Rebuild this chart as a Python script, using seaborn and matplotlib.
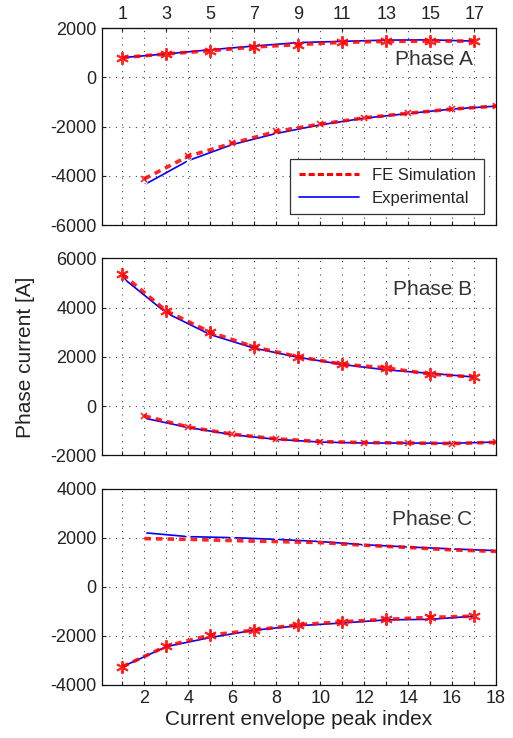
import numpy as np
import pandas as pd
import matplotlib
matplotlib.use("Agg")
import matplotlib.pyplot as plt
import seaborn as sns
from matplotlib.lines import Line2D

# peak indices
odd_idx = [1, 3, 5, 7, 9, 11, 13, 15, 17]
even_idx = [2, 4, 6, 8, 10, 12, 14, 16, 18]

# Phase A
a_fe_up = [800, 950, 1080, 1230, 1330, 1420, 1460, 1470, 1470]
a_ex_up = [800, 950, 1120, 1270, 1410, 1460, 1510, 1520, 1470]
a_fe_lo = [-4120, -3200, -2680, -2200, -1900, -1650, -1460, -1290, -1170]
a_ex_lo = [-4360, -3380, -2730, -2280, -1930, -1660, -1470, -1290, -1170]

# Phase B
b_fe_up = [5350, 3860, 3000, 2400, 2000, 1700, 1550, 1300, 1180]
b_ex_up = [5220, 3780, 2900, 2350, 1980, 1690, 1470, 1330, 1180]
b_fe_lo = [-400, -850, -1140, -1330, -1440, -1480, -1500, -1520, -1470]
b_ex_lo = [-490, -870, -1160, -1350, -1460, -1500, -1500, -1510, -1460]

# Phase C
c_fe_up = [1960, 1930, 1880, 1840, 1800, 1690, 1600, 1500, 1440]
c_ex_up = [2200, 2040, 2000, 1930, 1840, 1710, 1620, 1540, 1470]
c_fe_lo = [-3260, -2420, -1970, -1770, -1550, -1430, -1330, -1250, -1200]
c_ex_lo = [-3260, -2440, -2070, -1770, -1590, -1480, -1350, -1330, -1200]

phases = ["Phase A", "Phase B", "Phase C"]
ylims = [(-6000, 2000), (-2000, 6000), (-4000, 4000)]

sns.set_style("ticks")
plt.rcParams['font.family'] = ['Liberation Sans', 'DejaVu Sans']
plt.rcParams['axes.unicode_minus'] = False

fig = plt.figure(figsize=(5.13, 7.38), dpi=100)
left, width = 0.198, 0.769
boxes = [(0.695, 0.267), (0.383, 0.267), (0.072, 0.266)]
axes = [fig.add_axes([left, b, width, h]) for b, h in boxes]

data = [
    (a_fe_up, a_ex_up, a_fe_lo, a_ex_lo),
    (b_fe_up, b_ex_up, b_fe_lo, b_ex_lo),
    (c_fe_up, c_ex_up, c_fe_lo, c_ex_lo),
]
# which branch sits on odd peaks
odd_branch = ["up", "up", "lo"]

red = "#ff0000"
blue = "#0000ff"
asterisk = (6, 2, 0)

for i, ax in enumerate(axes):
    fe_up, ex_up, fe_lo, ex_lo = data[i]
    if odd_branch[i] == "up":
        sets = [(odd_idx, fe_up, ex_up, True), (even_idx, fe_lo, ex_lo, False)]
    else:
        sets = [(even_idx, fe_up, ex_up, False), (odd_idx, fe_lo, ex_lo, True)]
    for xs, fe, ex, star in sets:
        sns.lineplot(x=xs, y=ex, ax=ax, color=blue, lw=1.2, marker='x',
                     markersize=5, mew=1.0, legend=False)
        if star:
            mk = dict(marker=asterisk, markersize=9, mew=1.4, mec=red)
        elif i == 2:
            mk = dict(marker=None)
        else:
            mk = dict(marker='x', markersize=5, mew=1.2, mec=red)
        sns.lineplot(x=xs, y=fe, ax=ax, color=red, lw=2.6, linestyle=(0, (1.8, 1.4)),
                     alpha=0.85, legend=False, **mk)

    ax.set_xlim(0.05, 18)
    ax.set_ylim(*ylims[i])
    ax.set_yticks(np.arange(ylims[i][0], ylims[i][1] + 1, 2000))
    ax.set_xticks(range(1, 19))
    ax.grid(True, color="#444444", linestyle=(0, (1, 5)), linewidth=0.8)
    ax.tick_params(direction='in', length=3, labelsize=13, colors="#222222",
                   labelcolor="#222222")
    for s in ax.spines.values():
        s.set_visible(True)
        s.set_color("#111111")
        s.set_linewidth(0.9)
    ax.set_xticklabels([])
    ax.text(0.94, 0.84, phases[i], transform=ax.transAxes, ha='right',
            va='center', fontsize=15, color="#333333")

# top axis labels of first panel
top = axes[0].secondary_xaxis('top')
top.set_xticks(odd_idx)
top.set_xticklabels([str(v) for v in odd_idx])
top.tick_params(direction='in', length=3, labelsize=13, labelcolor="#222222")

# bottom labels of last panel
axes[2].set_xticks(range(1, 19))
axes[2].set_xticklabels([str(v) if v % 2 == 0 else "" for v in range(1, 19)])
axes[2].set_xlabel("Current envelope peak index", fontsize=15, color="#222222",
                   labelpad=2)
axes[1].set_ylabel("Phase current [A]", fontsize=15, color="#222222", labelpad=11)

# legend
handles = [Line2D([], [], color=red, lw=2.2, linestyle=(0, (2, 1))),
           Line2D([], [], color=blue, lw=1.2)]
leg = axes[0].legend(handles, ["FE Simulation", "Experimental"],
                     loc='lower right', bbox_to_anchor=(0.97, 0.055),
                     borderaxespad=0, fontsize=12, fancybox=False, framealpha=1,
                     edgecolor="#333333", handlelength=3.6, borderpad=0.5,
                     labelspacing=0.5)
leg.get_frame().set_linewidth(0.9)

fig.savefig("out.png", dpi=100)
